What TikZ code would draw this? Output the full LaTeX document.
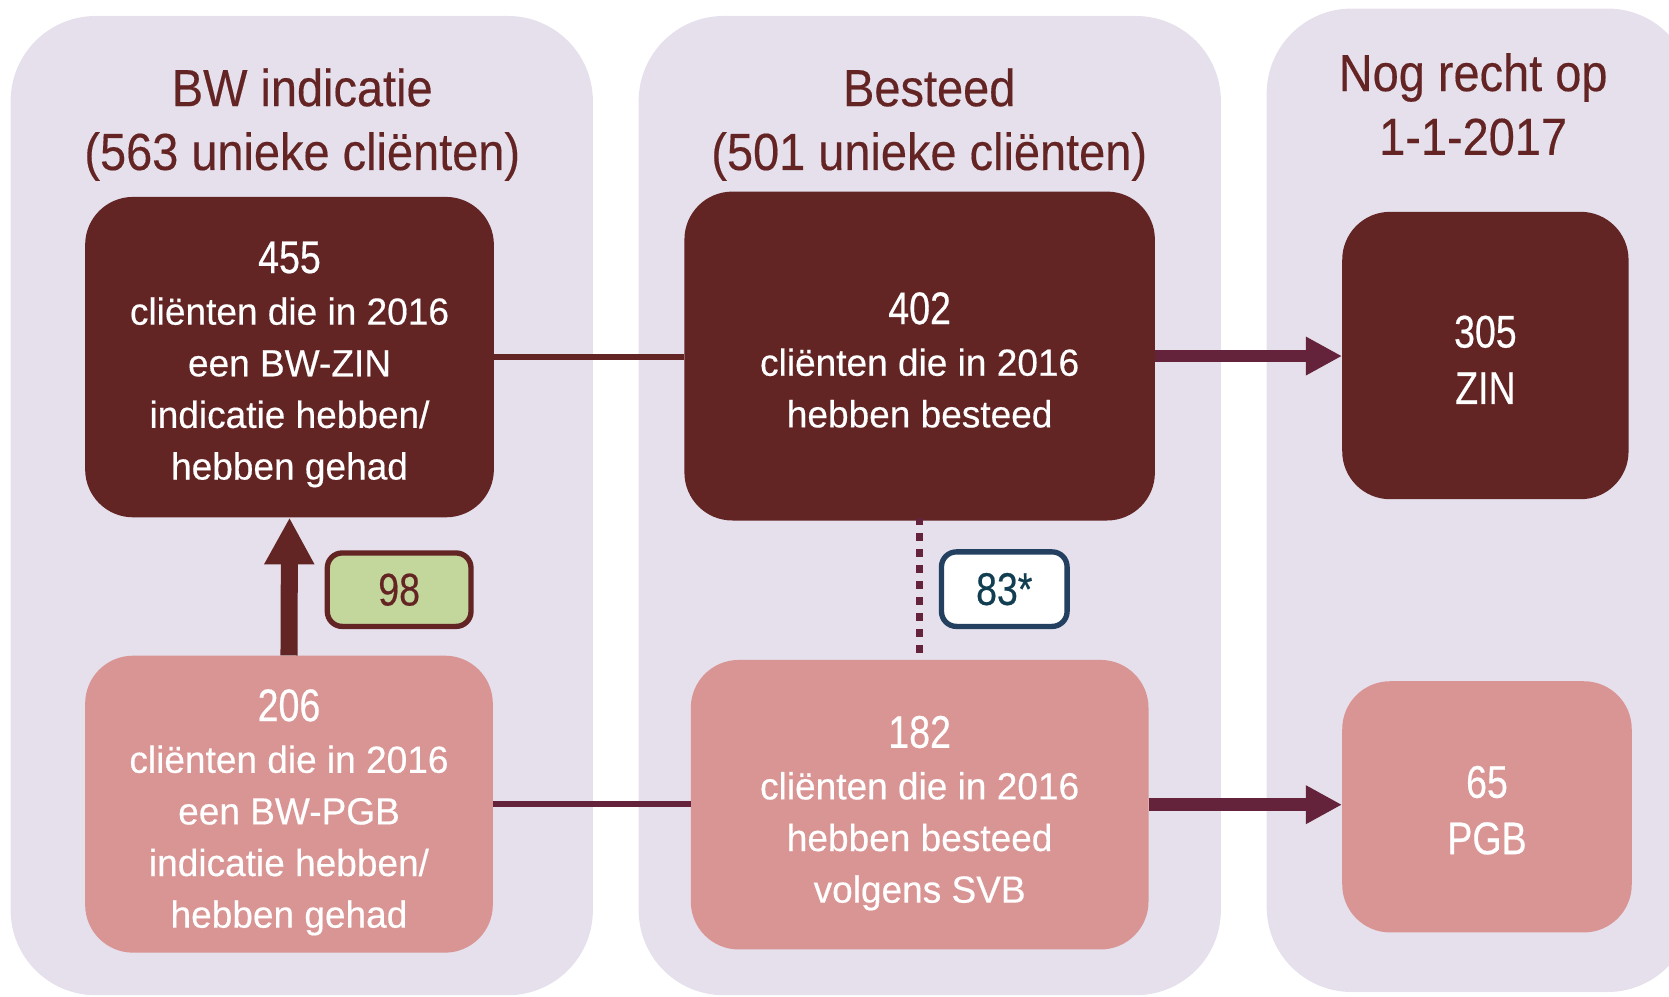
\documentclass[tikz,border=0pt]{standalone}
\usepackage{fontspec}
\setmainfont{Liberation Sans}
\newfontfamily\titlefont[FakeStretch=0.9,FakeBold=0.3]{Liberation Sans}
\newfontfamily\numfont[FakeStretch=0.82,FakeBold=0.4]{Liberation Sans}
\newfontfamily\bodyfont[FakeStretch=0.98,FakeBold=0.4]{Liberation Sans}
\usetikzlibrary{arrows.meta}
\definecolor{panelbg}{RGB}{229,224,236}
\definecolor{darkfill}{RGB}{99,36,36}
\definecolor{pinkfill}{RGB}{217,149,148}
\definecolor{arrowc}{RGB}{100,35,58}
\definecolor{titlec}{RGB}{99,36,35}
\definecolor{greenfill}{RGB}{195,214,155}
\definecolor{navyb}{RGB}{36,64,97}
\definecolor{tealt}{RGB}{18,62,82}
\newcommand{\numline}[2]{\rule{0pt}{#1pt}{\numfont\fontsize{43}{48}\selectfont #2}}
\begin{document}
\begin{tikzpicture}[x=1pt,y=-1pt,
  panel/.style={fill=panelbg, rounded corners=80pt},
  titletext/.style={text=titlec, align=center, inner sep=0pt, font=\titlefont\fontsize{49}{60}\selectfont},
  basebox/.style={rectangle, rounded corners=45pt, text=white, align=center, inner sep=0pt, text depth=0pt, font=\bodyfont\fontsize{35.5}{48.5}\selectfont},
  dbox/.style={basebox, fill=darkfill},
  pbox/.style={basebox, fill=pinkfill},
  bignum/.style={font=\numfont\fontsize{43}{53}\selectfont},
  connline/.style={arrowc, line width=6pt},
  bigarrow/.style={arrowc, line width=11pt, -{Triangle[width=34pt,length=34pt]}}
]
\useasboundingbox (0,0) rectangle (1568,936);
\clip (0,0) rectangle (1568,936);
% panels
\fill[panel] (10,15) rectangle (557,935);
\fill[panel] (600,15) rectangle (1147,935);
\fill[panel] (1190,8) rectangle (1590,932);
% titles
\node[titletext] (t1) at (284,117) {BW indicatie\\(563 unieke cliënten)};
\node[titletext] (t2) at (873,117) {Besteed\\(501 unieke cliënten)};
\node[titletext] (t3) at (1384,98) {Nog recht op\\1-1-2017};
% boxes
\node[dbox, minimum width=384pt, minimum height=301pt] (n455) at (272,335.5)
  {\numline{36}{455}\\cliënten die in 2016\\een BW-ZIN\\indicatie hebben/\\hebben gehad};
\node[dbox, minimum width=442pt, minimum height=309pt] (n402) at (864,334.5)
  {\numline{37}{402}\\cliënten die in 2016\\hebben besteed};
\node[dbox, bignum, minimum width=269pt, minimum height=270pt] (n305) at (1395.5,334)
  {\rule{0pt}{38pt}305\\ZIN};
\node[pbox, minimum width=383pt, minimum height=279pt] (n206) at (271.5,755.5)
  {\numline{38}{206}\\cliënten die in 2016\\een BW-PGB\\indicatie hebben/\\hebben gehad};
\node[pbox, minimum width=430pt, minimum height=272pt] (n182) at (864,756)
  {\numline{38.5}{182}\\cliënten die in 2016\\hebben besteed\\volgens SVB};
\node[pbox, bignum, minimum width=272pt, minimum height=236pt] (n65) at (1397,758)
  {\rule{0pt}{36pt}65\\PGB};
% label boxes
\node[rectangle, rounded corners=14pt, fill=greenfill, draw=darkfill, line width=5pt,
  minimum width=135pt, minimum height=69pt, inner sep=0pt, text=titlec,
  font=\numfont\fontsize{43}{48}\selectfont] (l98) at (375,554) {98};
\node[rectangle, rounded corners=14pt, fill=white, draw=navyb, line width=5pt,
  minimum width=118pt, minimum height=70pt, inner sep=0pt, text=tealt,
  font=\numfont\fontsize{43}{48}\selectfont] (l83) at (943.5,553.5) {83*};
% connectors
\draw[darkfill, line width=6pt] (n455.east) -- (n455.east -| n402.west);
\draw[bigarrow] (n402.east) -- (n402.east -| n305.west);
\draw[connline] (n206.east) -- (n206.east -| n182.west);
\draw[bigarrow, line width=12pt] (n182.east) -- (n182.east -| n65.west);
\draw[darkfill, line width=16pt, -{Triangle[width=44pt,length=44pt]}] (n206.north) -- (n455.south);
\draw[arrowc, line width=7pt, dash pattern=on 7pt off 8pt] ([yshift=3pt]n402.south) -- (n182.north);
\end{tikzpicture}
\end{document}
